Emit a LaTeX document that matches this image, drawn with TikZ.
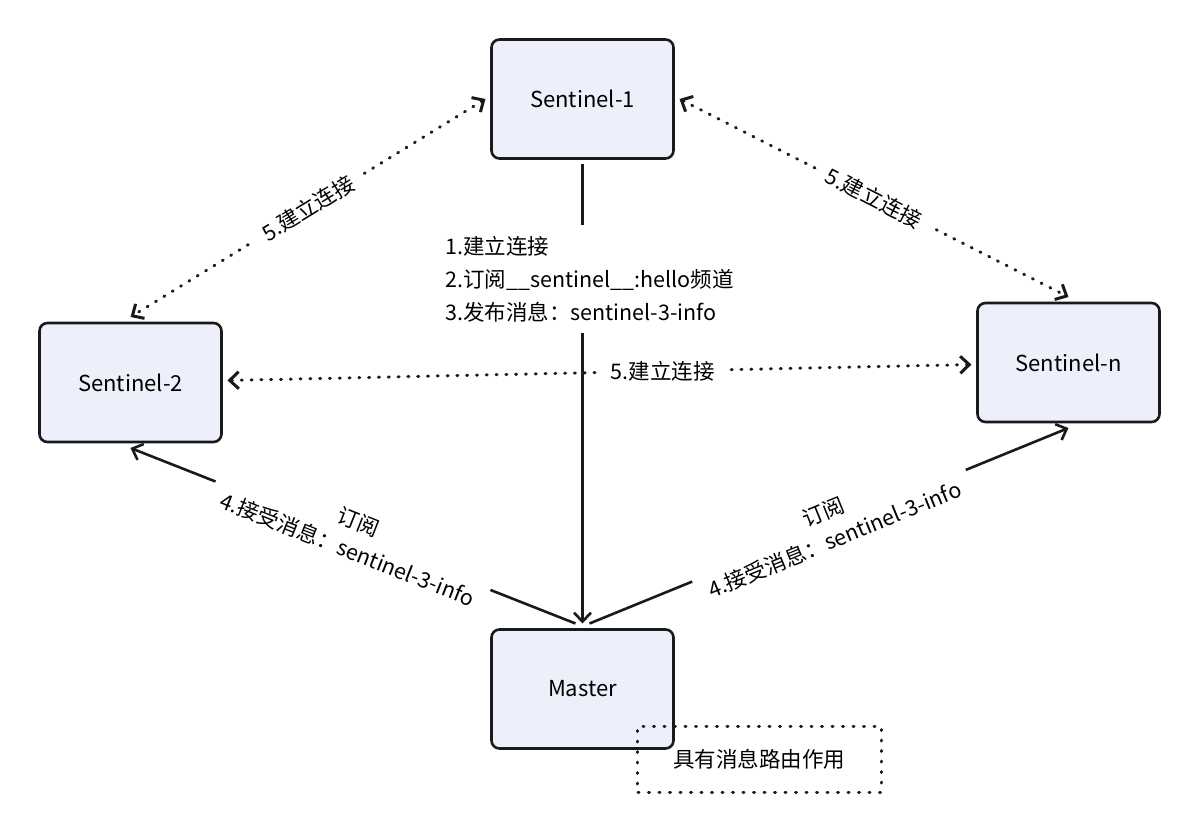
\documentclass[tikz,border=0pt]{standalone}
\usepackage{fontspec}
\setmainfont{Noto Sans CJK SC}
\usetikzlibrary{shapes, arrows.meta, positioning, decorations.markings}
\definecolor{boxfill}{RGB}{237,240,250}
\definecolor{boxline}{RGB}{26,26,26}
\tikzstyle{sentinel} = [rectangle, rounded corners=8pt, minimum width=182pt, minimum height=119pt, draw=boxline, line width=2.6pt, fill=boxfill, text centered, outer sep=6pt, font=\fontsize{22}{26}\selectfont]
\tikzstyle{note} = [rectangle, minimum width=243pt, minimum height=66pt, draw=boxline, line width=3pt, dash pattern=on 1pt off 9.5pt, line cap=round, font=\fontsize{21.5}{26}\selectfont]
\tikzstyle{msg} = [fill=white, align=left, inner xsep=4pt, inner ysep=11pt, font=\fontsize{21.5}{33}\selectfont]
\tikzstyle{lbl} = [fill=white, align=center, inner xsep=12pt, inner ysep=2pt, font=\fontsize{21.5}{30}\selectfont]
\tikzstyle{line} = [draw, draw=boxline, line width=2.6pt, -{Straight Barb[length=9pt, width=17pt]}]
\tikzstyle{link} = [draw, draw=boxline, line width=3pt, dash pattern=on 1pt off 8.8pt, line cap=round, shorten <=4pt, shorten >=4pt,
    postaction={decorate, decoration={markings,
        mark=at position 0 with {\pgfsetdash{}{0pt}\arrowreversed{Straight Barb[length=9pt, width=17pt]}},
        mark=at position 1 with {\pgfsetdash{}{0pt}\arrow{Straight Barb[length=9pt, width=17pt]}}}}]

\begin{document}
\begin{tikzpicture}[node distance=590pt]
            \useasboundingbox (-582.5pt,99pt) rectangle (617.5pt,-733pt);

            % Nodes
            \node (sen_1) [sentinel] {Sentinel-1};
            \node (master) [sentinel, below of=sen_1] {Master};
            \node (sen_2) [sentinel, left of=sen_1, xshift=138pt, yshift=-283.5pt] {Sentinel-2};
            \node (sen_n) [sentinel, right of=sen_1, xshift=-104pt, yshift=-263.5pt] {Sentinel-n};
            \node (route) [note, right of=master, xshift=-413pt, yshift=-70pt] {具有消息路由作用};

            % Main line
            \path [line] (sen_1) -- node[msg, pos=0.25, xshift=7pt] {1.建立连接\\2.订阅\_\_sentinel\_\_:hello频道\\3.发布消息：sentinel-3-info} (master);

            % Subscribe lines
            \path [line] ([xshift=-7pt] master.north) -- node[lbl, sloped] {订阅\\4.接受消息：sentinel-3-info} (sen_2.south);
            \path [line] ([xshift=7pt] master.north) -- node[lbl, sloped] {订阅\\4.接受消息：sentinel-3-info} (sen_n.south);

            % Connections
            \path [link] (sen_1.west) -- node[lbl, sloped] {5.建立连接} (sen_2.north);
            \path [link] (sen_1.east) -- node[lbl, sloped] {5.建立连接} (sen_n.north);
            \path [link] (sen_2) -- node[lbl, pos=0.585] {5.建立连接} (sen_n);
        \end{tikzpicture}
\end{document}
